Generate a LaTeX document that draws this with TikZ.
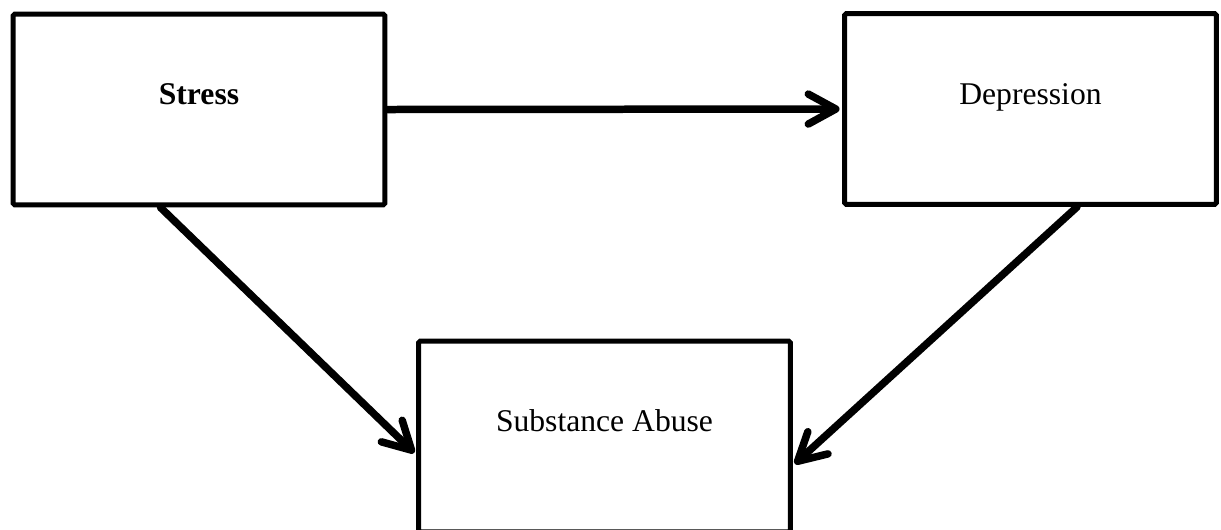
\documentclass[tikz,border=0pt]{standalone}
\usepackage{fontspec}
\setmainfont{Liberation Serif}
\usetikzlibrary{arrows.meta,calc}
\tikzset{
  >={Straight Barb[length=5.5mm,width=6mm,round]},
  box/.style={rectangle, draw, line width=0.1cm, rounded corners=1pt, minimum width=7.44cm, minimum height=3.82cm, text height=0.5cm, text depth=0.7cm, inner sep=0pt, font=\fontsize{18}{21}\selectfont},
  link/.style={->, line width=0.15cm, line cap=round, shorten >=0.05cm}
}
\begin{document}
\begin{tikzpicture}[x=0.02cm, y=-0.02cm]
    \useasboundingbox (0,0) rectangle (1221,529);
    \clip (0,0) rectangle (1221,529);

    % Boxes
    \node[box] (stress) at (199,109.5) {\textbf{Stress}};
    \node[box] (depr) at (1030.5,109) {Depression};
    \node[box] (abuse) at (604.5,436.5) {Substance Abuse};

    % Arrows
    \draw[link] (stress.east) -- (depr.west);
    \draw[link] ([xshift=3cm]stress.south west) -- ([yshift=-2.32cm]abuse.north west);
    \draw[link] ([xshift=-2.84cm]depr.south east) -- ([yshift=-2.54cm]abuse.north east);
\end{tikzpicture}
\end{document}
